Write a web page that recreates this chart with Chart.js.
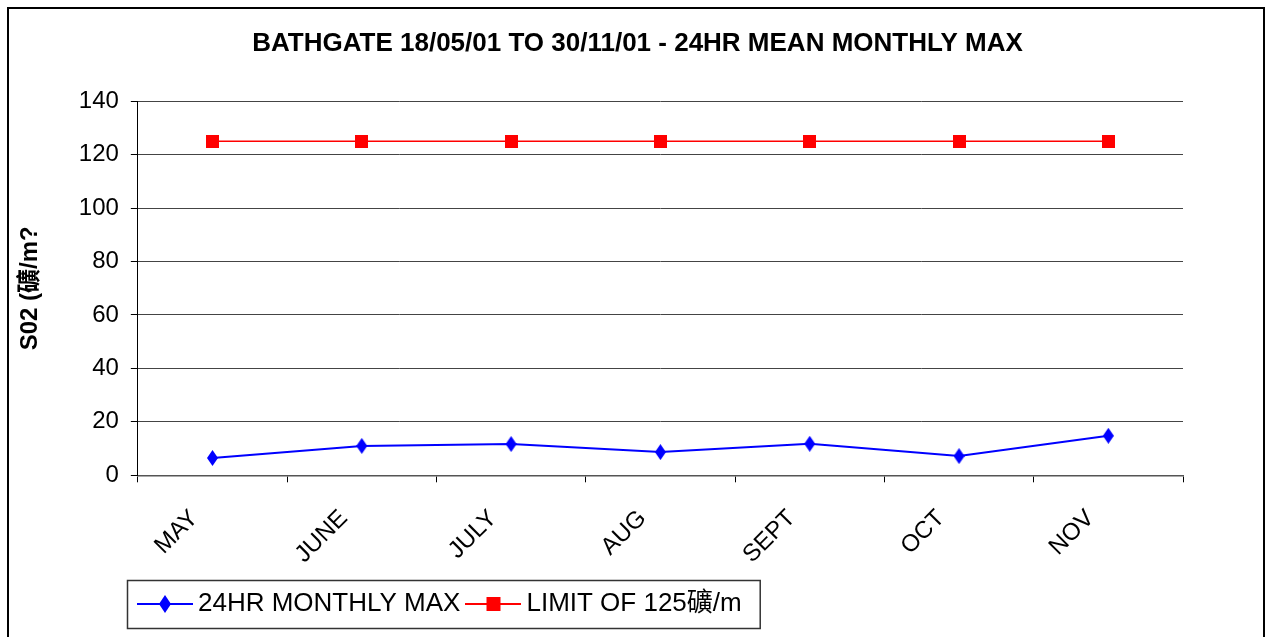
<!DOCTYPE html>
<html>
<head>
<meta charset="utf-8">
<title>Bathgate SO2</title>
<script src="https://cdn.jsdelivr.net/npm/chart.js@4.4.1/dist/chart.umd.min.js"></script>
<style>
  html, body { margin: 0; padding: 0; background: #fff; }
  #wrap { width: 1269px; height: 637px; }
</style>
</head>
<body>
<div id="wrap"><canvas id="graphique-so2"></canvas></div>
<script>
const mois = ["MAY", "JUNE", "JULY", "AUG", "SEPT", "OCT", "NOV"];
const maxMensuel = [6.5, 11, 11.7, 8.7, 11.8, 7.2, 14.8];
const limite = [125, 125, 125, 125, 125, 125, 125];
const ticksY = [0, 20, 40, 60, 80, 100, 120, 140];

const titre = "BATHGATE 18/05/01 TO 30/11/01 - 24HR MEAN MONTHLY MAX";
const titreAxeY = "S02 (礦/m?";
const nomsSeries = ["24HR MONTHLY MAX", "LIMIT OF 125礦/m"];

// Marqueurs dessinés à la main (losange étiré, carré plein)
function marqueur(forme, couleur, w, h) {
    const c = document.createElement("canvas");
    c.width = w; c.height = h;
    const ctx = c.getContext("2d");
    ctx.fillStyle = couleur;
    if (forme === "losange") {
        ctx.beginPath();
        ctx.moveTo(w / 2, 0);
        ctx.lineTo(w, h / 2);
        ctx.lineTo(w / 2, h);
        ctx.lineTo(0, h / 2);
        ctx.closePath();
        ctx.fill();
    } else {
        ctx.fillRect(0, 0, w, h);
    }
    return c;
}

// Symbole de légende : trait + marqueur au milieu
function symboleLegende(forme, couleur, w, h) {
    const c = document.createElement("canvas");
    c.width = 56; c.height = 20;
    const ctx = c.getContext("2d");
    ctx.strokeStyle = couleur;
    ctx.lineWidth = 2;
    ctx.beginPath();
    ctx.moveTo(0, 10);
    ctx.lineTo(56, 10);
    ctx.stroke();
    ctx.drawImage(marqueur(forme, couleur, w, h), 28 - w / 2, 10 - h / 2);
    return c;
}

const losange = marqueur("losange", "#0000ff", 11, 16);
const carre = marqueur("carre", "#ff0000", 13, 13);
const symboles = [symboleLegende("losange", "#0000ff", 12, 18), symboleLegende("carre", "#ff0000", 14, 14)];

// Cadre extérieur + bordure de la légende ; titre et légende recentrés comme voulu
const cadre = {
    id: "cadre",
    afterLayout(chart) {
        chart.legend.left += 120;
        chart.legend.right += 120;
        chart.titleBlock.left += 40;
        chart.titleBlock.right += 40;
    },
    afterDraw(chart) {
        const ctx = chart.ctx;
        ctx.save();
        ctx.strokeStyle = "#000";
        ctx.lineWidth = 2;
        ctx.strokeRect(8, 8, 1256, 650);

        const boites = chart.legend.legendHitBoxes;
        if (boites && boites.length) {
            const derniere = boites[boites.length - 1];
            const gauche = boites[0].left - 18;
            const droite = derniere.left + derniere.width + 18;
            const haut = boites[0].top - 11;
            const bas = boites[0].top + boites[0].height + 11;
            ctx.strokeStyle = "#333";
            ctx.lineWidth = 1.5;
            ctx.strokeRect(gauche + 0.5, haut + 0.5, droite - gauche, bas - haut);
        }
        ctx.restore();
    }
};

Chart.defaults.font.family = "Arial, 'Liberation Sans', 'Noto Sans CJK SC', sans-serif";
Chart.defaults.color = "#000";

const data = {
    labels: mois,
    datasets: [{
        label: nomsSeries[0],
        data: maxMensuel,
        borderColor: "#0000ff",
        backgroundColor: "#0000ff",
        borderWidth: 2,
        pointStyle: losange,
        tension: 0,
    }, {
        label: nomsSeries[1],
        data: limite,
        borderColor: "#ff0000",
        backgroundColor: "#ff0000",
        borderWidth: 1.5,
        pointStyle: carre,
        tension: 0,
    }],
};

const config = {
    type: "line",
    data: data,
    plugins: [cadre],
    options: {
        responsive: true,
        maintainAspectRatio: false,
        animation: false,
        layout: {
            padding: { left: 12, right: 86, top: 10, bottom: 10 },
        },
        plugins: {
            title: {
                display: true,
                text: titre,
                font: { size: 26, weight: "bold" },
                padding: { top: 18, bottom: 42 },
            },
            legend: {
                position: "bottom",
                align: "start",
                labels: {
                    usePointStyle: true,
                    pointStyleWidth: 40,
                    padding: 13,
                    font: { size: 26 },
                    generateLabels(chart) {
                        return chart.data.datasets.map((ds, i) => ({
                            text: ds.label,
                            pointStyle: symboles[i],
                            fillStyle: ds.backgroundColor,
                            strokeStyle: ds.borderColor,
                            lineWidth: 0,
                            datasetIndex: i,
                            fontColor: "#000",
                        }));
                    },
                },
            },
            tooltip: { enabled: false },
        },
        scales: {
            x: {
                offset: true,
                afterFit(scale) {
                    // place réservée aux étiquettes inclinées un peu trop large
                    scale.height -= 13;
                },
                grid: {
                    display: true,
                    offset: true,
                    drawOnChartArea: false,
                    drawTicks: true,
                    tickLength: 7,
                    tickColor: "#000",
                },
                border: { color: "#555", width: 1.5 },
                ticks: {
                    font: { size: 24 },
                    minRotation: 45,
                    maxRotation: 45,
                    padding: 22,
                    labelOffset: -18,
                },
            },
            y: {
                min: 0,
                max: 140,
                afterBuildTicks(scale) {
                    scale.ticks = ticksY.map(v => ({ value: v }));
                },
                grid: {
                    color: "#444",
                    lineWidth: 1,
                    tickLength: 7,
                    tickColor: "#000",
                },
                border: { color: "#000", width: 1 },
                ticks: {
                    font: { size: 24 },
                    padding: 12,
                },
                title: {
                    display: true,
                    text: titreAxeY,
                    font: { size: 24, weight: "bold" },
                    padding: { top: 4, bottom: 22 },
                },
            },
        },
    },
};

new Chart(document.querySelector("#graphique-so2"), config);
</script>
</body>
</html>
